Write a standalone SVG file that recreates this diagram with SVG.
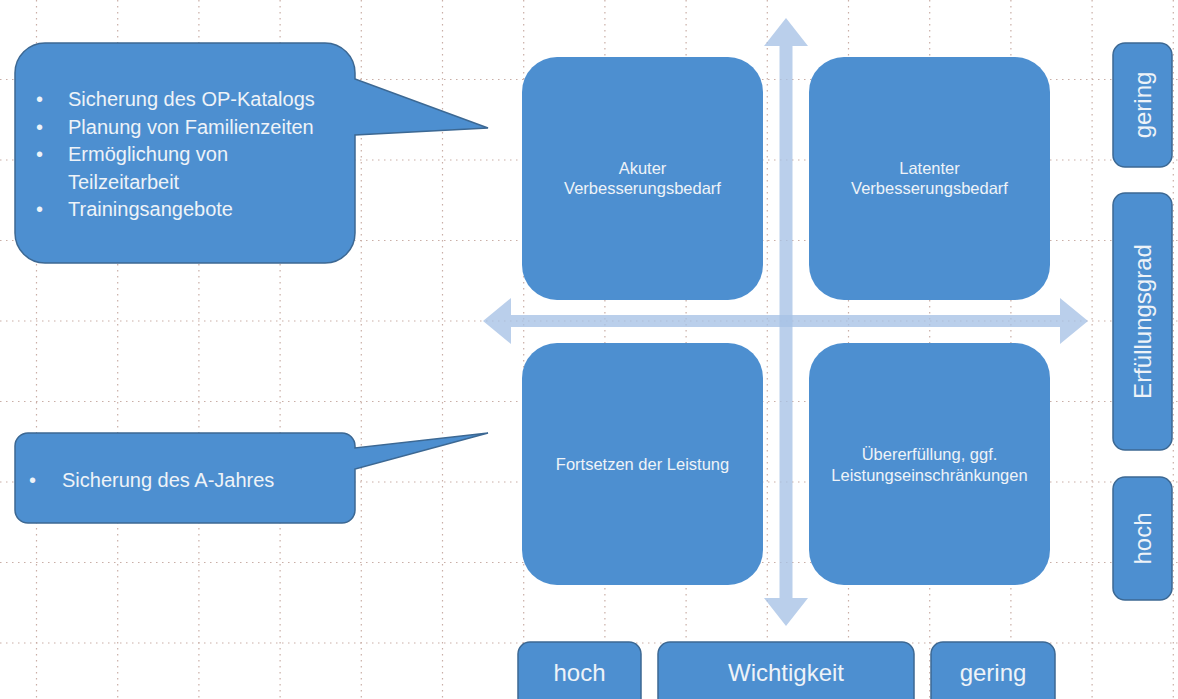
<svg xmlns="http://www.w3.org/2000/svg" width="1178" height="699" viewBox="0 0 1178 699">
<style>
.grid line{stroke:#c9aea6;stroke-width:1.2;stroke-dasharray:1.5 4.5}
.axis{fill:#a6c2e6;fill-opacity:0.78}
.box{fill:#4d8fd0}
.lbl{fill:#4d8fd0;stroke:#3c6893;stroke-width:1.5}
.call{fill:#4d8fd0;stroke:#3c6893;stroke-width:1.5}
text{font-family:"Liberation Sans",Arial,sans-serif;fill:#eef3f8}
.q{font-size:16.5px;text-anchor:middle}
.a{font-size:24px;text-anchor:middle}
.c{font-size:20px}
</style>
<rect width="1178" height="699" fill="#ffffff"/>
<g class="grid">
<line x1="36.5" y1="0" x2="36.5" y2="699"/>
<line x1="117.7" y1="0" x2="117.7" y2="699"/>
<line x1="198.9" y1="0" x2="198.9" y2="699"/>
<line x1="280.1" y1="0" x2="280.1" y2="699"/>
<line x1="361.3" y1="0" x2="361.3" y2="699"/>
<line x1="442.5" y1="0" x2="442.5" y2="699"/>
<line x1="523.7" y1="0" x2="523.7" y2="699"/>
<line x1="604.9" y1="0" x2="604.9" y2="699"/>
<line x1="686.1" y1="0" x2="686.1" y2="699"/>
<line x1="767.3" y1="0" x2="767.3" y2="699"/>
<line x1="848.5" y1="0" x2="848.5" y2="699"/>
<line x1="929.7" y1="0" x2="929.7" y2="699"/>
<line x1="1010.9" y1="0" x2="1010.9" y2="699"/>
<line x1="1092.1" y1="0" x2="1092.1" y2="699"/>
<line x1="1173.3" y1="0" x2="1173.3" y2="699"/>
<line x1="0" y1="79.5" x2="1178" y2="79.5"/>
<line x1="0" y1="160" x2="1178" y2="160"/>
<line x1="0" y1="240.5" x2="1178" y2="240.5"/>
<line x1="0" y1="321" x2="1178" y2="321"/>
<line x1="0" y1="401.5" x2="1178" y2="401.5"/>
<line x1="0" y1="482" x2="1178" y2="482"/>
<line x1="0" y1="562.5" x2="1178" y2="562.5"/>
<line x1="0" y1="643" x2="1178" y2="643"/>
</g>
<g id="connectors">
<path class="axis" d="M786,18 L808,46 L792.5,46 L792.5,598 L808,598 L786,626 L764,598 L779.5,598 L779.5,46 L764,46 Z"/>
<path class="axis" d="M483,321 L511,298 L511,315 L1060,315 L1060,298 L1088,321 L1060,344 L1060,327 L511,327 L511,344 Z"/>
</g>
<g id="q-akut">
<rect class="box" x="522" y="57" width="241" height="243" rx="35"/>
<text class="q" x="642.5" y="174">Akuter</text>
<text class="q" x="642.5" y="194">Verbesserungsbedarf</text>
</g>
<g id="q-latent">
<rect class="box" x="809" y="57" width="241" height="243" rx="35"/>
<text class="q" x="929.5" y="174">Latenter</text>
<text class="q" x="929.5" y="194">Verbesserungsbedarf</text>
</g>
<g id="q-fortsetzen">
<rect class="box" x="522" y="343" width="241" height="242" rx="35"/>
<text class="q" x="642.5" y="470">Fortsetzen der Leistung</text>
</g>
<g id="q-uebererfuellung">
<rect class="box" x="809" y="343" width="241" height="242" rx="35"/>
<text class="q" x="929.5" y="460">Übererfüllung, ggf.</text>
<text class="q" x="929.5" y="481">Leistungseinschränkungen</text>
</g>
<g id="callout-1">
<path class="call" d="M15,73 A30,30 0 0 1 45,43 L325,43 A30,30 0 0 1 355,73 L355,79 L488,128 L355,135 L355,233 A30,30 0 0 1 325,263 L45,263 A30,30 0 0 1 15,233 Z"/>
<text class="c" x="36" y="106">•</text>
<text class="c" x="68" y="106">Sicherung des OP-Katalogs</text>
<text class="c" x="36" y="133.5">•</text>
<text class="c" x="68" y="133.5">Planung von Familienzeiten</text>
<text class="c" x="36" y="161">•</text>
<text class="c" x="68" y="161">Ermöglichung von</text>
<text class="c" x="68" y="188.5">Teilzeitarbeit</text>
<text class="c" x="36" y="216">•</text>
<text class="c" x="68" y="216">Trainingsangebote</text>
</g>
<g id="callout-2">
<path class="call" d="M15,446 A13,13 0 0 1 28,433 L342,433 A13,13 0 0 1 355,446 L355,448 L488,433 L355,469 L355,510 A13,13 0 0 1 342,523 L28,523 A13,13 0 0 1 15,510 Z"/>
<text class="c" x="29" y="487">•</text>
<text class="c" x="62" y="487">Sicherung des A-Jahres</text>
</g>
<g id="x-hoch">
<rect class="lbl" x="518" y="642" width="123" height="72" rx="12"/>
<text class="a" x="579.5" y="681">hoch</text>
</g>
<g id="x-wichtigkeit">
<rect class="lbl" x="658" y="642" width="256" height="72" rx="12"/>
<text class="a" x="786" y="681">Wichtigkeit</text>
</g>
<g id="x-gering">
<rect class="lbl" x="931" y="642" width="124" height="72" rx="12"/>
<text class="a" x="993" y="681">gering</text>
</g>
<g id="y-gering">
<rect class="lbl" x="1113" y="43" width="59" height="124" rx="12"/>
<text class="a" transform="translate(1151,105) rotate(-90)" x="0" y="0">gering</text>
</g>
<g id="y-erfuellungsgrad">
<rect class="lbl" x="1113" y="193" width="59" height="257" rx="12"/>
<text class="a" transform="translate(1151,321.5) rotate(-90)" x="0" y="0">Erfüllungsgrad</text>
</g>
<g id="y-hoch">
<rect class="lbl" x="1113" y="477" width="59" height="123" rx="12"/>
<text class="a" transform="translate(1151,538.5) rotate(-90)" x="0" y="0">hoch</text>
</g>
</svg>
